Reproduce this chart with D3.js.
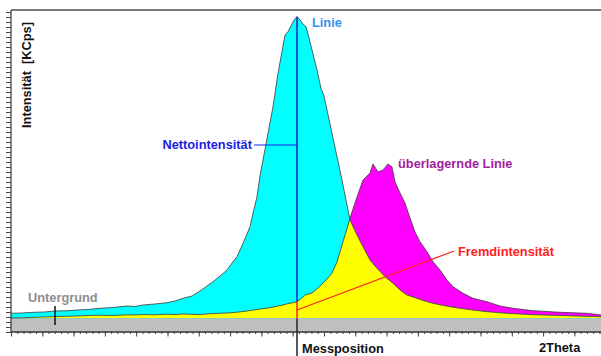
<!DOCTYPE html>
<html>
<head>
<meta charset="utf-8">
<script src="https://cdn.jsdelivr.net/npm/d3@7"></script>
<style>
  body { margin: 0; background: #fff; }
  text { font-family: "Liberation Sans", Arial, sans-serif; font-weight: bold; font-size: 12.8px; white-space: pre; }
</style>
</head>
<body>
<div id="chart"></div>
<script>
// Profile: position (channel) and intensity above background (KCps)
var mainPos = [0, 11, 22, 33, 44, 55, 66, 77, 89, 102, 116, 124, 132, 144, 156, 164, 172, 181, 189, 196,
  202, 209, 216, 221, 226, 232, 236, 239, 242, 246, 249, 252, 257, 262, 267, 272, 274, 277, 280, 283,
  286, 289, 292, 295, 297, 301, 306, 310, 313, 316, 321, 326, 331, 335, 339, 346, 352, 359, 366, 374,
  382, 389, 396, 406, 414, 422, 430, 439, 447, 456, 466, 476, 486, 496, 509, 522, 539, 556, 573, 590];
var mainInt = [0.51, 0.54, 0.61, 0.64, 0.74, 0.76, 0.84, 0.89, 1.01, 1.09, 1.24, 1.19, 1.34, 1.44, 1.57, 1.74, 2.01, 2.24, 2.74, 3.24,
  3.67, 4.24, 4.84, 5.54, 6.17, 7.51, 8.44, 9.17, 10.51, 12.17, 14.24, 15.84, 18.51, 21.17, 24.51, 27.24, 28.34, 28.67, 29.24, 29.84,
  30.17, 29.84, 29.44, 29.17, 28.44, 26.84, 24.84, 23.01, 22.24, 20.84, 18.51, 16.17, 13.84, 11.84, 9.84, 8.34, 7.17, 5.84, 5.01, 4.17,
  3.51, 2.84, 2.34, 2.01, 1.74, 1.51, 1.34, 1.17, 1.04, 0.91, 0.79, 0.67, 0.59, 0.51, 0.44, 0.37, 0.32, 0.27, 0.22, 0.17];

// overlapping line (Fremdintensität)
var overPos = [0, 11, 22, 33, 44, 55, 66, 77, 89, 102, 116, 124, 132, 144, 156, 164, 172, 181, 189, 196,
  202, 209, 216, 221, 226, 232, 236, 239, 242, 246, 249, 252, 257, 262, 267, 272, 277, 280, 283, 286,
  289, 292, 295, 298, 301, 306, 310, 313, 316, 321, 326, 331, 335, 339, 346, 352, 359, 362, 367, 372,
  377, 381, 384, 389, 394, 399, 404, 409, 416, 422, 429, 436, 442, 452, 462, 476, 489, 502, 522, 549, 576, 590];
var overInt = [0.04, 0.06, 0.11, 0.14, 0.19, 0.21, 0.24, 0.29, 0.32, 0.29, 0.36, 0.34, 0.39, 0.36, 0.42, 0.39, 0.44, 0.41, 0.39, 0.44,
  0.49, 0.51, 0.54, 0.57, 0.62, 0.69, 0.74, 0.79, 0.84, 0.89, 0.94, 0.97, 1.04, 1.14, 1.24, 1.34, 1.49, 1.54, 1.59, 1.67,
  1.89, 2.14, 2.39, 2.44, 2.54, 2.94, 3.34, 3.64, 3.94, 4.54, 5.64, 7.34, 8.64, 10.04, 12.14, 13.84, 14.54, 15.44, 14.64, 14.84,
  15.44, 15.14, 13.64, 12.54, 11.54, 10.04, 8.64, 7.67, 6.67, 5.67, 4.84, 3.84, 3.17, 2.51, 2.01, 1.67, 1.24, 1.01, 0.77, 0.61, 0.51, 0.34];

var background = 1.36;   // Untergrund
var measPos = 286;       // Messposition
var bgMarkPos = 44;      // tick under "Untergrund"

var width = 601, height = 356;

var x = d3.scaleLinear().domain([0, 590]).range([11, 601]);
var y = d3.scaleLinear().domain([0, 32.2]).range([332, 10]);

var svg = d3.select("#chart").append("svg")
    .attr("width", width)
    .attr("height", height);

var mainData = mainPos.map(function(p, i) { return {p: p, v: mainInt[i]}; });
var overData = overPos.map(function(p, i) { return {p: p, v: overInt[i]}; });

var area = d3.area()
    .x(function(d) { return x(d.p); })
    .y0(y(background))
    .y1(function(d) { return y(background + d.v); });
var line = d3.line()
    .x(function(d) { return x(d.p); })
    .y(function(d) { return y(background + d.v); });

// yellow = part of the overlapping line lying inside the main line
svg.append("clipPath").attr("id", "mainClip")
  .append("path").attr("d", area(mainData));

// background band
svg.append("rect")
    .attr("x", x(0)).attr("y", y(background))
    .attr("width", x(590) - x(0)).attr("height", y(0) - y(background))
    .style("fill", "#c0c0c0");

svg.append("path").attr("d", area(overData)).style("fill", "#ff00ff");
svg.append("path").attr("d", area(mainData)).style("fill", "#00ffff");
svg.append("path").attr("d", area(overData)).attr("clip-path", "url(#mainClip)").style("fill", "#ffff00");

svg.append("path").attr("d", line(overData))
    .style("fill", "none").style("stroke", "#3a3a3a").style("stroke-width", 0.8);
svg.append("path").attr("d", line(mainData))
    .style("fill", "none").style("stroke", "#3a3a3a").style("stroke-width", 0.8);

// frame
svg.append("line").attr("x1", 11).attr("x2", 601).attr("y1", 10).attr("y2", 10)
    .style("stroke", "#7a7a7a").style("stroke-width", 2);

var yAxis = svg.append("g").attr("transform", "translate(11,0)")
    .call(d3.axisLeft(y).tickValues(d3.range(0, 32.2, 0.5)).tickSize(5).tickFormat(""));
var xMinor = svg.append("g").attr("transform", "translate(0," + y(0) + ")")
    .call(d3.axisBottom(x).tickValues(d3.range(0, 591, 6.26)).tickSize(2).tickFormat(""));
var xMajor = svg.append("g").attr("transform", "translate(0," + y(0) + ")")
    .call(d3.axisBottom(x).tickValues(d3.range(0, 591, 31.3)).tickSize(4.5).tickFormat(""));
[yAxis, xMinor, xMajor].forEach(function(g) {
    g.selectAll("path").attr("d", g === yAxis ? "M0,10V332" : "M11,0H601")
        .style("stroke", "#333").style("stroke-width", 1.2);
    g.selectAll("line").style("stroke", "#444");
});

// Messposition
var im = mainPos.indexOf(measPos), io = overPos.indexOf(measPos);
var topNet = y(background + mainInt[im]);
var topFremd = y(background + overInt[io]);
var xm = x(measPos);

svg.append("line").attr("x1", xm).attr("x2", xm).attr("y1", y(background)).attr("y2", height)
    .style("stroke", "#222").style("stroke-width", 1.5);
svg.append("line").attr("x1", xm).attr("x2", xm).attr("y1", topFremd).attr("y2", y(background))
    .style("stroke", "#ff2020").style("stroke-width", 1.5);
svg.append("line").attr("x1", xm).attr("x2", xm).attr("y1", topNet).attr("y2", topFremd)
    .style("stroke", "#1c1cd8").style("stroke-width", 1.5);

// connectors
svg.append("line").attr("x1", x(243)).attr("x2", xm).attr("y1", y(18.7)).attr("y2", y(18.7))
    .style("stroke", "#1c1ce6").style("stroke-width", 1.2);
svg.append("line").attr("x1", xm).attr("y1", (topFremd + y(background)) / 2)
    .attr("x2", x(443)).attr("y2", y(8.1))
    .style("stroke", "#ff2020").style("stroke-width", 1.2);
svg.append("line").attr("x1", x(bgMarkPos)).attr("x2", x(bgMarkPos)).attr("y1", 306).attr("y2", 325)
    .style("stroke", "#111").style("stroke-width", 1.5);

// labels
function label(txt, px, py, col, anchor) {
    svg.append("text").attr("x", px).attr("y", py)
        .attr("text-anchor", anchor || "start")
        .style("fill", col).text(txt);
}
label("Linie", 312, 27, "#3590f0");
label("Nettointensität", 252, 149, "#1c1ce6", "end");
label("überlagernde Linie", 398, 168, "#a01f9f");
label("Fremdintensität", 458, 256, "#ff2020");
label("Untergrund", 28, 302, "#8f8f8f");
label("Messposition", 302, 353, "#111");
label("2Theta", 539, 352, "#111");

svg.append("text")
    .attr("transform", "translate(31,75) rotate(-90)")
    .attr("text-anchor", "middle")
    .style("fill", "#111")
    .text("Intensität  [KCps]");
</script>
</body>
</html>
